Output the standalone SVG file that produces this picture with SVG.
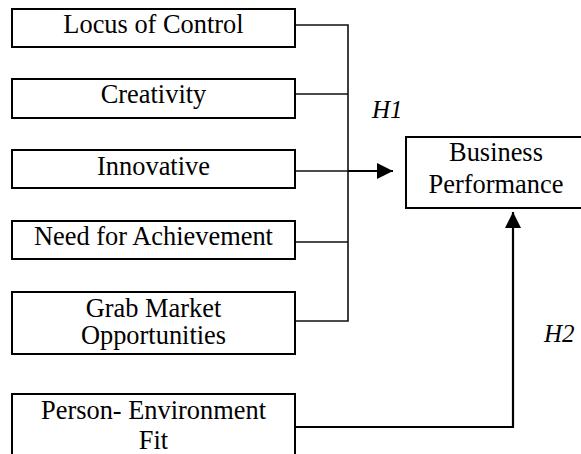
<svg xmlns="http://www.w3.org/2000/svg" width="581" height="454" viewBox="0 0 581 454">
<defs>
<style>
.box{fill:#fff;stroke:#000;stroke-width:2}
.t{font-family:"Liberation Serif","Times New Roman",serif;font-size:26.4px;fill:#000;text-anchor:middle}
.h{font-family:"Liberation Serif","Times New Roman",serif;font-size:25px;font-style:italic;fill:#000}
.c{fill:none;stroke:#111;stroke-width:1.6}
.ct{fill:none;stroke:#000;stroke-width:2.2}
</style>
<marker id="ah" viewBox="0 0 16 16" refX="16" refY="8" markerWidth="16" markerHeight="16" markerUnits="userSpaceOnUse" orient="auto">
<path d="M0,0 L16,8 L0,16 Z" fill="#000"/>
</marker>
</defs>
<rect width="581" height="454" fill="#fff"/>
<g id="connectors">
<path class="c" d="M295,25 H348 V321 H295"/>
<path class="c" d="M295,94 H348"/>
<path class="c" d="M295,242 H348"/>
<path class="c" d="M295,171 H348"/>
<path class="ct" d="M348,171 H393" marker-end="url(#ah)"/>
<path class="ct" d="M295,427 H513 V212" marker-end="url(#ah)"/>
</g>
<g id="locus"><rect class="box" x="12" y="9" width="283" height="38"/><text class="t" x="153.5" y="33">Locus of Control</text></g>
<g id="creativity"><rect class="box" x="12" y="79" width="283" height="39"/><text class="t" x="153.5" y="103">Creativity</text></g>
<g id="innovative"><rect class="box" x="12" y="150" width="283" height="38"/><text class="t" x="153.5" y="175">Innovative</text></g>
<g id="achievement"><rect class="box" x="12" y="221" width="283" height="38"/><text class="t" x="153.5" y="245">Need for Achievement</text></g>
<g id="grab"><rect class="box" x="12" y="292" width="283" height="62"/><text class="t" x="153.5" y="317">Grab Market</text><text class="t" x="153.5" y="344">Opportunities</text></g>
<g id="pefit"><rect class="box" x="12" y="394" width="283" height="70"/><text class="t" x="153.5" y="419">Person- Environment</text><text class="t" x="153.5" y="449">Fit</text></g>
<g id="business"><rect class="box" x="406" y="137" width="180" height="71"/><text class="t" x="496" y="161">Business</text><text class="t" x="496" y="193">Performance</text></g>
<g id="labels"><text class="h" x="372" y="118">H1</text><text class="h" x="544" y="342">H2</text></g>
</svg>
